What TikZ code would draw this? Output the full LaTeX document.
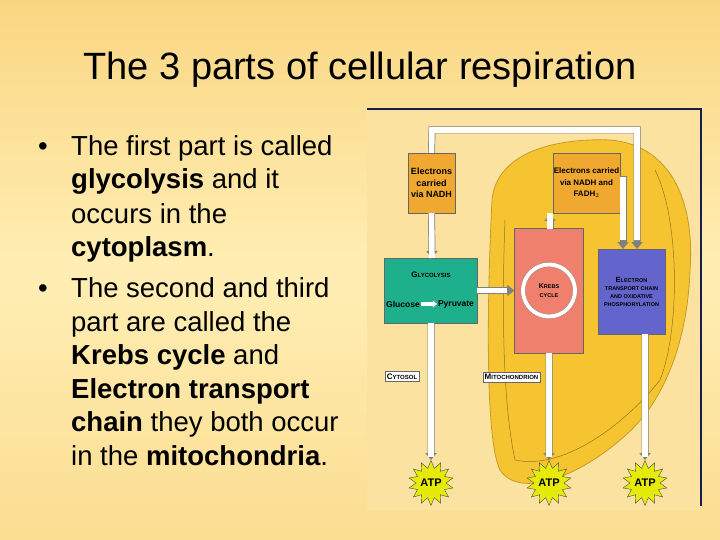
\documentclass[tikz,border=0pt]{standalone}
\usepackage{fontspec}
\setmainfont{Liberation Sans}
\usetikzlibrary{shapes.geometric,arrows.meta}
\definecolor{bgtop}{RGB}{250,214,130}
\definecolor{bgbot}{RGB}{255,238,180}
\definecolor{imgbg}{RGB}{252,226,160}
\definecolor{mito}{RGB}{245,196,48}
\definecolor{boxor}{RGB}{240,168,48}
\definecolor{krebs}{RGB}{240,128,110}
\definecolor{etc}{RGB}{100,100,205}
\definecolor{glyc}{RGB}{30,175,140}
\definecolor{navy}{RGB}{20,30,80}
\begin{document}
\begin{tikzpicture}[x=1pt,y=-1pt,
  box/.style={draw=black!60,line width=0.4pt,align=center,inner sep=1pt,font=\fontsize{9}{11.5}\selectfont\bfseries},
  lab/.style={draw=black!60,fill=white,font=\fontsize{8}{9}\selectfont\bfseries,inner sep=2pt},
  pipe/.style={draw=black!50,line width=7pt,-{Triangle[length=7pt,width=11pt]}},
  pipew/.style={draw=white,line width=5.6pt},
  atp/.style={star,star points=14,star point ratio=1.5,fill=yellow!90!green,draw=black!70,minimum size=34pt,inner sep=0pt,font=\fontsize{11}{12}\selectfont\bfseries},
  txt/.style={font=\fontsize{27.5}{30}\selectfont,anchor=base west,inner sep=0pt}]
\useasboundingbox (0,0) rectangle (720,540);
\shade[top color=bgtop,bottom color=bgbot] (0,0) rectangle (720,270);
\shade[top color=bgbot,bottom color=bgtop!70!bgbot] (0,270) rectangle (720,540);
\node[font=\fontsize{38}{44}\selectfont,anchor=base] (title) at (360,80) {The 3 parts of cellular respiration};
% bullets
\node[txt] (b1) at (38,156) {•};
\node[txt] (l1) at (71,156) {The first part is called};
\node[txt] (l2) at (71,189) {\textbf{glycolysis} and it};
\node[txt] (l3) at (71,223) {occurs in the};
\node[txt] (l4) at (71,256) {\textbf{cytoplasm}.};
\node[txt] (b2) at (38,297) {•};
\node[txt] (l5) at (71,297) {The second and third};
\node[txt] (l6) at (71,331) {part are called the};
\node[txt] (l7) at (71,364) {\textbf{Krebs cycle} and};
\node[txt] (l8) at (71,398) {\textbf{Electron transport}};
\node[txt] (l9) at (71,431) {\textbf{chain} they both occur};
\node[txt] (l10) at (71,465) {in the \textbf{mitochondria}.};
% image
\fill[imgbg] (367,109) rectangle (700,510);
\draw[navy,line width=2pt] (367,109) -- (701,109) -- (701,506);
% mitochondrion
\draw[mito!80!black,fill=mito,line width=0.8pt] (492,200) .. controls (497,150) and (560,138) .. (610,140)
  .. controls (670,145) and (695,200) .. (690,270) .. controls (688,330) and (670,400) .. (620,440)
  .. controls (580,475) and (520,500) .. (500,470) .. controls (485,440) and (487,300) .. (492,200) -- cycle;
\draw[mito!60!black,line width=0.5pt] (505,220) .. controls (502,300) and (502,400) .. (515,460)
  .. controls (560,470) and (620,430) .. (660,380) .. controls (680,330) and (680,220) .. (655,170);
% boxes
\node[box,fill=boxor,minimum width=47pt,minimum height=60pt] (nadh) at (431.5,183) {Electrons\\carried\\via NADH};
\node[box,fill=boxor,minimum width=63pt,minimum height=60pt,font=\fontsize{8}{11.5}\selectfont\bfseries] (fadh) at (586.5,183) {Electrons carried\\via NADH and\\FADH$_2$};
\node[box,fill=krebs,minimum width=69pt,minimum height=125pt] (krebs) at (549,290.5) {};
\draw[white,line width=4pt] (krebs.center) circle (26pt);
\draw[black!40,line width=0.3pt] (krebs.center) circle (28.3pt) (krebs.center) circle (23.7pt);
\node[font=\fontsize{7}{9}\selectfont\bfseries,align=center] (krebst) at (krebs.center) {K{\fontsize{5.5}{9}\selectfont REBS}\\{\fontsize{5.5}{9}\selectfont CYCLE}};
\node[box,fill=etc,minimum width=67pt,minimum height=85pt,font=\fontsize{5.5}{8}\selectfont\bfseries] (etc) at (631.5,291.5) {{\fontsize{7.5}{8}\selectfont E}LECTRON\\TRANSPORT CHAIN\\AND OXIDATIVE\\PHOSPHORYLATION};
\node[box,fill=glyc,minimum width=93pt,minimum height=65pt] (glyc) at (430.5,290.5) {};
\node[font=\fontsize{6}{9}\selectfont\bfseries] (glyct) at (431,275) {{\fontsize{8}{9}\selectfont G}LYCOLYSIS};
\node[font=\fontsize{8.5}{10}\selectfont\bfseries,inner sep=1pt] (gluc) at (403,304) {Glucose};
\node[font=\fontsize{8.5}{10}\selectfont\bfseries,inner sep=1pt] (pyr) at (456,304) {Pyruvate};
\draw[white,line width=4pt,-{Triangle[length=4pt,width=7pt]}] (gluc.east) -- (pyr.west);
\node[lab,font=\fontsize{6}{9}\selectfont\bfseries] (cyt) at (402,376.5) {{\fontsize{8}{9}\selectfont C}YTOSOL};
\node[lab,font=\fontsize{6}{9}\selectfont\bfseries] (mit) at (511.5,377) {{\fontsize{8}{9}\selectfont M}ITOCHONDRION};
% ATP
\node[atp] (a1) at (431,483) {ATP};
\node[atp] (a2) at (549,483) {ATP};
\node[atp] (a3) at (645,483) {ATP};
% connectors
\coordinate (c1) at (432,130); \coordinate (c2) at (637,130);
\draw[pipe] (nadh.north) -- (c1) -- (c2) -- (637,249);
\draw[pipew] (nadh.north) -- (c1) -- (c2) -- (637,240);
\draw[pipe] (nadh.south) -- (432,258);
\draw[pipew] (nadh.south) -- (432,258);
\draw[pipe] (431,323) -- (a1.north);
\draw[pipew] (431,323) -- (431,457);
\draw[pipe] (glyc.east) -- (krebs.west);
\draw[pipew] (glyc.east) -- (507,290.5);
\draw[pipe] (krebs.south) -- (a2.north);
\draw[pipew] (krebs.south) -- (549,457);
\draw[pipe] (645,334) -- (a3.north);
\draw[pipew] (645,334) -- (645,457);
\draw[pipe] (550,228) -- (550,214);
\draw[pipew] (550,229) -- (550,213);
\coordinate (f1) at (622,180);
\draw[pipe] (fadh.east|-f1) -- (623,180) -- (623,249);
\draw[pipew] (fadh.east|-f1) -- (623,180) -- (623,240);
\end{tikzpicture}
\end{document}
